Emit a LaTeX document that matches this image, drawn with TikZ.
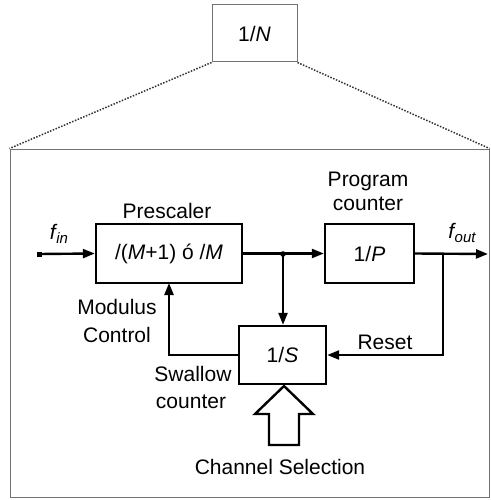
\documentclass[tikz,border=0pt]{standalone}
\usepackage{fontspec}
\setmainfont{Liberation Sans}
\usetikzlibrary{arrows.meta}
\tikzset{
  blk/.style={draw, line width=2.4pt, minimum width=146pt, minimum height=59pt, inner sep=0pt, font=\fontsize{21}{24}\selectfont},
  thin/.style={draw=black!55, line width=1pt},
  arr/.style={line width=2.4pt, -{Triangle[length=12pt,width=9pt]}},
  lbl/.style={inner sep=0pt, font=\fontsize{21}{24}\selectfont, align=center},
  dots/.style={draw=black!80, line width=1.5pt, dash pattern=on 1.5pt off 1.5pt},
}
\begin{document}
\begin{tikzpicture}[x=1pt,y=-1pt]
\useasboundingbox (0,0) rectangle (490,500);
% top box and frame
\node[thin, minimum width=85pt, minimum height=57pt, inner sep=0pt, font=\fontsize{21}{24}\selectfont] (top) at (254.5,33.5) {1/\textit{N}};
\node[thin, minimum width=479pt, minimum height=348pt, inner sep=0pt] (frame) at (249.5,323) {};
\draw[dots] (top.south west) -- (frame.north west);
\draw[dots] (top.south east) -- (frame.north east);
% blocks
\node[blk] (pre) at (169,253.5) {/(\textit{M}+1) ó /\textit{M}};
\node[blk, minimum width=89pt] (pc) at (369.5,253.5) {1/\textit{P}};
\node[blk, minimum width=87pt, minimum height=58pt] (sw) at (282.5,355) {1/\textit{S}};
% coordinates
\node[fill, minimum size=5pt, inner sep=0pt] (in) at (39,254) {};
\coordinate (j) at (283,254);
\coordinate (out) at (488,254);
\coordinate (br) at (443,254);
\coordinate (mc) at (169,283);
% connectors
\draw[arr] (in) -- (pre.west);
\draw[arr] (pre.east) -- (pc.west);
\fill (j) circle (2.8pt);
\draw[arr] (j) -- (j |- sw.north);
\draw[arr] (pc.east) -- (out);
\draw[arr] (br) |- (sw.east);
\draw[arr] (sw.west) -| (mc);
% hollow arrow
\draw[line width=2.4pt, line join=miter] (269,445) -- (269,414) -- (255,414) -- (284,386) -- (313,414) -- (299,414) -- (299,445) -- cycle;
% labels
\node[lbl] (lp) at (167,211) {Prescaler};
\node[lbl] (lpc1) at (368,181) {Program};
\node[lbl] (lpc2) at (368,204) {counter};
\node[lbl] (lfin) at (59,234) {\textit{f\kern0.5pt\raisebox{-4pt}{\fontsize{15}{17}\selectfont in}}};
\node[lbl] (lfout) at (462,233) {\textit{f\kern0.5pt\raisebox{-4pt}{\fontsize{15}{17}\selectfont out}}};
\node[lbl] (lrs) at (385,342) {Reset};
\node[lbl] (lm1) at (117,307) {Modulus};
\node[lbl] (lm2) at (117,335) {Control};
\node[lbl] (ls1) at (193,374) {Swallow};
\node[lbl] (ls2) at (191,402) {counter};
\node[lbl] (lch) at (280,467) {Channel Selection};
\end{tikzpicture}
\end{document}
